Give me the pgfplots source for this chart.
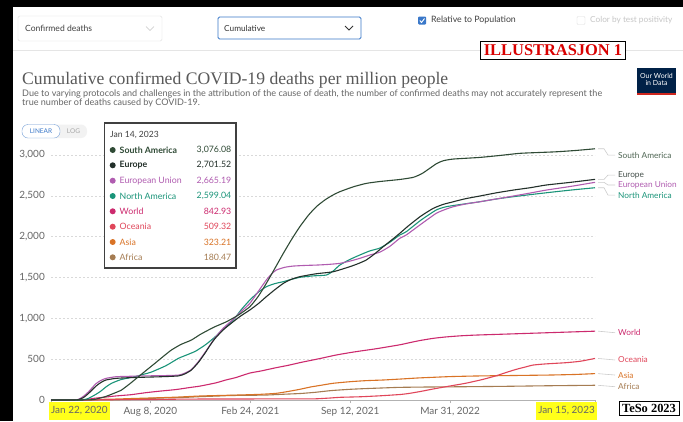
\documentclass[border=0pt]{standalone}
\usepackage{fontspec}
\setmainfont{Lato}
\newfontfamily\seriffont{Liberation Serif}
\usepackage{pgfplots}
\pgfplotsset{compat=1.18}
\definecolor{cSA}{HTML}{2F4A35}
\definecolor{cEU}{HTML}{23302A}
\definecolor{cUN}{HTML}{B05CB0}
\definecolor{cNA}{HTML}{1A9479}
\definecolor{cWO}{HTML}{CC2A6E}
\definecolor{cOC}{HTML}{E0465A}
\definecolor{cAS}{HTML}{D97326}
\definecolor{cAF}{HTML}{A57C52}
\definecolor{txtgray}{HTML}{666666}
\definecolor{hl}{HTML}{FFFF1A}
\definecolor{owidblue}{HTML}{002147}
\definecolor{owidred}{HTML}{CE261E}
\definecolor{uiblue}{HTML}{3A78C9}
\begin{document}
\begin{tikzpicture}[x=1bp,y=-1bp]
\useasboundingbox (0,0) rectangle (683,421);
\fill[white] (0,0) rectangle (683,421);
% frame
\fill[black] (0,0) rectangle (13,421);
\fill[black] (0,0) rectangle (683,7);
% top controls
\draw[gray!25, rounded corners=1.5bp] (18,16) rectangle (162,41);
\node[anchor=west, font=\fontsize{8.6}{9}\selectfont, text=black!75, inner sep=0] at (25,28.5) {Confirmed deaths};
\draw[gray!45, line width=0.6bp] (146,26.5) -- (150,30.5) -- (154,26.5);
\draw[uiblue, line width=0.8bp, rounded corners=1.5bp] (218,17) rectangle (361,39);
\node[anchor=west, font=\fontsize{8.3}{9}\selectfont, text=black!80, inner sep=0] at (224,28) {Cumulative};
\draw[black!80, line width=1bp] (345,26) -- (349,30) -- (353,26);
\fill[uiblue, rounded corners=1bp] (418,16.5) rectangle (426,24.5);
\draw[white, line width=0.9bp] (419.8,20.5) -- (421.5,22.5) -- (424.5,18.5);
\node[anchor=west, font=\fontsize{8.8}{9}\selectfont, text=black!75, inner sep=0] at (431,20.5) {Relative to Population};
\draw[gray!25, rounded corners=1bp] (577,16.5) rectangle (585,24.5);
\node[anchor=west, font=\fontsize{8.3}{9}\selectfont, text=gray!45, inner sep=0] at (590,20.5) {Color by test positivity};
\draw[gray!20, line width=0.8bp] (13,50) -- (683,50);
% illustrasjon box
\node[draw=black, line width=0.8bp, fill=white, inner xsep=3bp, inner ysep=3.5bp, font=\seriffont\bfseries\fontsize{16.5}{17}\selectfont, text=red!85!black, anchor=center] at (553,50.5) {ILLUSTRASJON 1};
% title
\node[anchor=base west, inner sep=0, font=\seriffont\fontsize{17.7}{20}\selectfont, text=black!65] at (22,84) {Cumulative confirmed COVID-19 deaths per million people};
\node[anchor=base west, inner sep=0, font=\fontsize{9.1}{10}\selectfont, text=txtgray] at (22,96) {Due to varying protocols and challenges in the attribution of the cause of death, the number of confirmed deaths may not accurately represent the};
\node[anchor=base west, inner sep=0, font=\fontsize{9.1}{10}\selectfont, text=txtgray] at (22,105.5) {true number of deaths caused by COVID-19.};
% owid logo
\fill[owidblue] (637,68) rectangle (676,95);
\fill[owidred] (637,92.5) rectangle (676,95);
\node[align=center, font=\fontsize{7}{7.5}\selectfont, text=white, inner sep=0] at (656.5,79.5) {Our World\\in Data};
% linear/log toggle
\fill[gray!10, rounded corners=6bp] (22,124.5) rectangle (87,138);
\draw[uiblue!70, fill=white, rounded corners=6bp] (22,124.5) rectangle (60,138);
\node[font=\fontsize{6.5}{7}\selectfont, text=uiblue, inner sep=0] at (41,131.3) {LINEAR};
\node[font=\fontsize{6.5}{7}\selectfont, text=gray!70, inner sep=0] at (73.5,131.3) {LOG};

\begin{axis}[
  at={(51bp,-400bp)}, anchor=south west,
  scale only axis, width=544bp, height=253.2bp,
  xmin=0, xmax=1089, ymin=0, ymax=3100,
  clip=false,
  axis x line*=bottom, axis y line*=left,
  x axis line style={draw=gray!60, -},
  y axis line style={draw=none},
  ytick={0,500,1000,1500,2000,2500,3000},
  yticklabels={0,500,{1,000},{1,500},{2,000},{2,500},{3,000}},
  ytick style={draw=none},
  xtick={0,199,399,599,799,1089},
  xticklabels={,{Aug 8, 2020},{Feb 24, 2021},{Sep 12, 2021},{Mar 31, 2022},},
  xtick style={draw=gray!60},
  tick align=outside, major tick length=3bp,
  ymajorgrids, grid style={gray!30, dash pattern=on 2bp off 2bp},
  yticklabel style={font=\fontsize{10}{11}\selectfont, text=txtgray, inner sep=0, anchor=east, xshift=-3bp},
  xticklabel style={font=\fontsize{10}{11}\selectfont, text=txtgray, inner sep=0, anchor=north, yshift=-4bp},
  every axis plot/.append style={line width=1.1bp, smooth, tension=0.35, no marks},
]
\addplot[cAF] table {
0 0
60 0
100 1
130 3
160 7
200 20
230 26
260 30
298 41
330 48
360 55
400 58
431 61
470 72
500 80
530 95
560 115
598 131
630 140
665 148
698 155
750 159
831 163
900 167
950 171
1000 175
1089 180.47
};
\addplot[cAS] table {
0 0
30 0.2
70 2
100 8
130 12
160 18
200 25
250 35
298 49
340 56
380 62
420 70
451 82
475 105
498 131
520 160
540 180
565 205
598 224
630 237
665 245
700 257
735 270
765 278
800 287
850 294
898 298
950 302
1000 306
1050 313
1089 323.21
};
\addplot[cOC] table {
0 0
60 0
90 3
130 4
200 6
250 10
300 12
400 13
500 14
531 15
560 25
578 33
620 40
660 52
700 68
718 82
740 105
765 135
798 171
830 205
865 253
890 295
910 335
931 375
950 405
965 428
990 442
1031 457
1060 475
1089 509.32
};
\addplot[cWO] table {
0 0
40 0.5
55 1
70 5
85 20
100 30
130 50
160 65
190 90
220 110
250 128
280 155
298 170
330 210
350 245
370 275
398 330
420 355
450 395
475 425
500 460
520 485
540 510
570 550
600 582
625 605
650 627
675 652
700 678
720 705
740 730
765 755
790 772
820 786
850 795
900 805
950 815
1000 825
1050 835
1089 842.93
};
\addplot[cNA] table {
0 0
55 0
65 3
75 20
90 70
100 110
110 160
121 204
140 250
168 286
185 315
200 340
230 420
255 510
275 560
290 600
310 680
328 770
345 870
365 979
380 1100
398 1224
415 1320
431 1387
448 1425
465 1449
480 1475
498 1502
525 1520
551 1530
565 1580
578 1652
598 1720
618 1775
638 1825
658 1860
678 1930
698 2020
711 2060
740 2200
771 2326
790 2365
812 2387
858 2427
890 2460
925 2489
960 2515
991 2537
1040 2570
1089 2599.04
};
\addplot[cUN] table {
0 0
45 0
55 8
65 45
75 100
90 200
100 240
110 265
130 285
155 290
180 295
220 298
255 305
268 330
281 372
295 470
308 580
318 670
328 760
345 880
365 990
380 1080
398 1183
415 1330
431 1469
441 1540
451 1591
468 1625
485 1640
510 1648
531 1652
555 1660
578 1673
598 1700
618 1734
638 1775
658 1810
678 1880
698 1979
711 2020
740 2150
771 2285
790 2335
805 2366
830 2400
858 2427
890 2460
925 2497
960 2535
991 2570
1040 2615
1089 2665.19
};
\addplot[cEU] table {
0 0
45 0
55 5
65 30
75 80
90 170
100 215
110 245
130 265
155 273
180 278
220 285
255 295
268 320
281 367
295 460
308 571
318 665
328 750
345 860
365 960
380 1030
398 1102
415 1180
431 1265
448 1350
465 1428
480 1475
498 1510
530 1545
565 1571
598 1632
615 1670
631 1714
648 1790
665 1877
682 1960
698 2040
715 2130
740 2250
765 2346
785 2395
805 2427
830 2465
858 2497
890 2535
925 2570
960 2600
991 2632
1040 2665
1089 2701.52
};
\addplot[cSA] table {
0 0
40 0
60 0.5
85 5
108 40
125 80
141 122
158 200
175 285
192 370
208 449
225 535
241 612
260 680
281 734
298 800
313 850
328 897
351 958
375 1040
398 1142
415 1270
431 1428
448 1610
465 1795
482 1970
498 2121
515 2260
531 2366
548 2448
563 2505
578 2550
605 2610
631 2652
658 2675
698 2700
725 2726
742 2770
758 2836
772 2895
785 2929
805 2950
858 2970
900 2995
938 3020
975 3030
1011 3039
1050 3055
1089 3076.08
};
% end labels with connectors
\tikzset{conn/.style={gray!40, line width=0.6bp}, lab/.style={anchor=west, inner sep=0, font=\fontsize{8.3}{9}\selectfont}}
\draw[conn] ([xshift=3bp]axis cs:1089,3076) -- ([xshift=9bp]axis cs:1089,3076) -- ([xshift=13bp]axis cs:1089,2999) -- ([xshift=20bp]axis cs:1089,2999);
\node[lab, text=cSA!85] at ([xshift=23bp]axis cs:1089,2999) {South America};
\draw[conn] ([xshift=3bp]axis cs:1089,2701) -- ([xshift=9bp]axis cs:1089,2701) -- ([xshift=13bp]axis cs:1089,2754) -- ([xshift=20bp]axis cs:1089,2754);
\node[lab, text=cEU!85] at ([xshift=23bp]axis cs:1089,2754) {Europe};
\draw[conn] ([xshift=3bp]axis cs:1089,2665) -- ([xshift=9bp]axis cs:1089,2665) -- ([xshift=13bp]axis cs:1089,2632) -- ([xshift=20bp]axis cs:1089,2632);
\node[lab, text=cUN] at ([xshift=23bp]axis cs:1089,2632) {European Union};
\draw[conn] ([xshift=3bp]axis cs:1089,2599) -- ([xshift=9bp]axis cs:1089,2599) -- ([xshift=13bp]axis cs:1089,2509) -- ([xshift=20bp]axis cs:1089,2509);
\node[lab, text=cNA] at ([xshift=23bp]axis cs:1089,2509) {North America};
\draw[conn] ([xshift=3bp]axis cs:1089,843) -- ([xshift=20bp]axis cs:1089,824);
\node[lab, text=cWO] at ([xshift=23bp]axis cs:1089,824) {World};
\draw[conn] ([xshift=3bp]axis cs:1089,509) -- ([xshift=20bp]axis cs:1089,490);
\node[lab, text=cOC] at ([xshift=23bp]axis cs:1089,490) {Oceania};
\draw[conn] ([xshift=3bp]axis cs:1089,323) -- ([xshift=20bp]axis cs:1089,306);
\node[lab, text=cAS] at ([xshift=23bp]axis cs:1089,306) {Asia};
\draw[conn] ([xshift=3bp]axis cs:1089,180) -- ([xshift=20bp]axis cs:1089,163);
\node[lab, text=cAF] at ([xshift=23bp]axis cs:1089,163) {Africa};
\end{axis}

% highlighted first / last x labels
\node[fill=hl, anchor=west, inner xsep=2bp, minimum height=18bp, font=\fontsize{10}{11}\selectfont, text=txtgray] at (49,410.5) {Jan 22, 2020};
\node[fill=hl, anchor=east, inner xsep=2bp, minimum height=18bp, font=\fontsize{10}{11}\selectfont, text=txtgray] at (597,410.5) {Jan 15, 2023};
% TeSo box
\node[draw=black, line width=0.8bp, fill=white, inner xsep=3bp, inner ysep=2.5bp, font=\seriffont\bfseries\fontsize{12.5}{13}\selectfont, anchor=center] at (649,408.5) {TeSo 2023};

% tooltip
\draw[black!75, line width=1.1bp, fill=white] (104.5,123) rectangle (236,268);
\node[anchor=west, inner sep=0, font=\fontsize{8.6}{9}\selectfont, text=black!75] at (110,135) {Jan 14, 2023};
\foreach \yy/\col/\nm/\val/\fnt in {
  150/cSA/South America/{3,076.08}/\bfseries,
  165.3/cEU/Europe/{2,701.52}/\bfseries,
  180.7/cUN/European Union/{2,665.19}/,
  196/cNA/North America/{2,599.04}/,
  211.3/cWO/World/842.93/,
  226.7/cOC/Oceania/509.32/,
  242/cAS/Asia/323.21/,
  257.3/cAF/Africa/180.47/}{
  \fill[\col] (112.7,\yy) circle (3bp);
  \node[anchor=west, inner sep=0, font=\fontsize{8.8}{9}\selectfont\fnt, text=\col] at (119.5,\yy) {\nm};
  \node[anchor=east, inner sep=0, font=\fontsize{8.8}{9}\selectfont, text=\col] at (231.5,\yy) {\val};
}
\end{tikzpicture}
\end{document}
